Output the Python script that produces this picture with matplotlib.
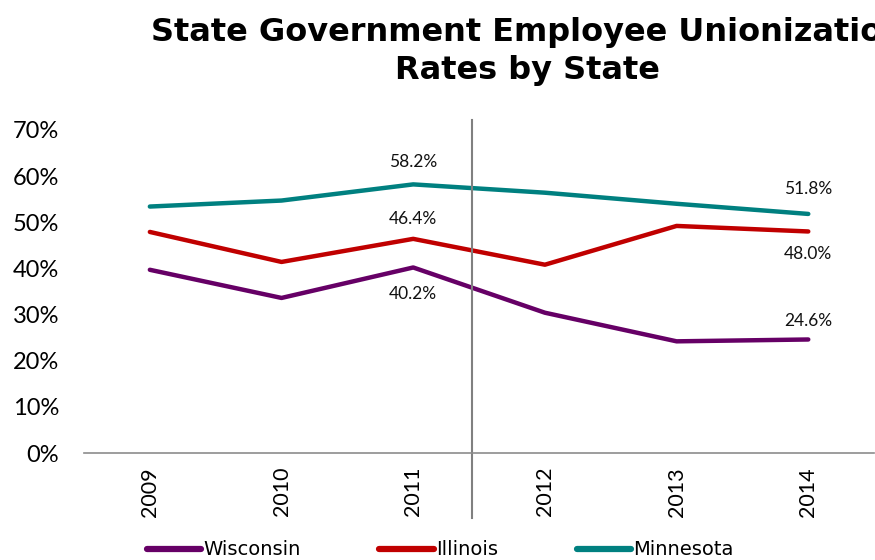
import matplotlib
matplotlib.use("Agg")
import matplotlib.pyplot as plt
from matplotlib.ticker import PercentFormatter

years = ["2009", "2010", "2011", "2012", "2013", "2014"]
wisconsin = [0.397, 0.336, 0.402, 0.304, 0.242, 0.246]
illinois = [0.479, 0.414, 0.464, 0.408, 0.492, 0.480]
minnesota = [0.534, 0.547, 0.582, 0.564, 0.540, 0.518]

series = [
    ("Wisconsin", wisconsin, "#660066"),
    ("Illinois", illinois, "#C00000"),
    ("Minnesota", minnesota, "#008080"),
]

# which points get a label, and offset in points
labels = {
    "Wisconsin": {2: -19, 5: 13},
    "Illinois": {2: 14, 5: -16},
    "Minnesota": {2: 16, 5: 18},
}

fig = plt.figure(figsize=(8.75, 5.6), dpi=100)
ax = fig.add_axes([0.096, 0.191, 0.903, 0.577])

x = list(range(len(years)))
for name, vals, col in series:
    ax.plot(x, vals, color=col, lw=3.2, label=name, solid_capstyle="round")
    for i, off in labels[name].items():
        ax.annotate(f"{vals[i]*100:.1f}%", (x[i], vals[i]), xytext=(0, off),
                    textcoords="offset points", ha="center", va="center",
                    fontsize=12.5, family="Lato", color="#111111")

# divider between 2011 and 2012
ax.axvline(2.45, ymin=-0.2, ymax=1.03, color="#808080", lw=1.5, clip_on=False)

ax.set_xlim(-0.5, 5.5)
ax.set_ylim(0, 0.7)
ax.yaxis.set_major_formatter(PercentFormatter(1.0, decimals=0))
ax.set_yticks([i / 10 for i in range(8)])
ax.set_xticks(x)
ax.set_xticklabels(years, rotation=90, family="Lato", fontsize=15.5)
for t in ax.get_yticklabels():
    t.set_family("Lato")
    t.set_fontsize(17)
ax.tick_params(axis="y", length=0, pad=18)
ax.tick_params(axis="x", length=0, pad=10)
for s in ["top", "right", "left"]:
    ax.spines[s].set_visible(False)
ax.spines["bottom"].set_color("#8c8c8c")
ax.spines["bottom"].set_linewidth(1.2)

fig.text(0.603, 0.908, "State Government Employee Unionization\nRates by State",
         ha="center", va="center", fontsize=23, fontweight="bold",
         family="DejaVu Sans", linespacing=1.3)

leg = fig.legend(loc="center", bbox_to_anchor=(0.503, 0.018), ncol=3, frameon=False,
                 prop={"family": "Liberation Sans Narrow", "size": 14},
                 handlelength=2.8, handletextpad=0.1, columnspacing=4.05)
for h in leg.get_lines():
    h.set_linewidth(4.5)

fig.savefig("out.png", dpi=100)
